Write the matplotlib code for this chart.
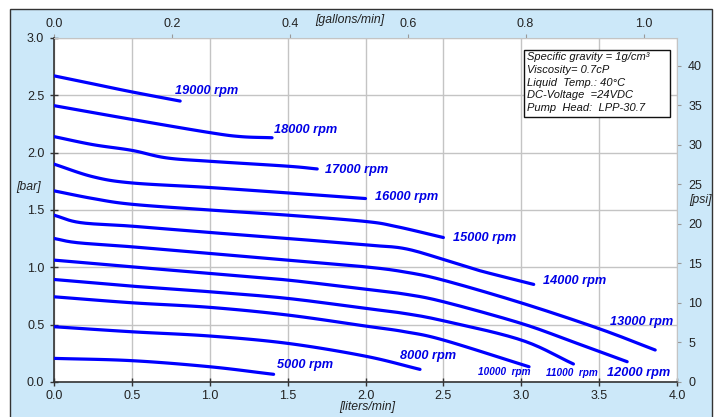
import matplotlib
matplotlib.use("Agg")
import matplotlib.pyplot as plt
from matplotlib.patches import Rectangle
import numpy as np

plt.rcParams['font.family'] = ['Liberation Sans', 'DejaVu Sans']

# ---- data (flow in liters/min, pressure in bar) ----
rpm_labels = ["19000 rpm", "18000 rpm", "17000 rpm", "16000 rpm", "15000 rpm",
              "14000 rpm", "13000 rpm", "12000 rpm", "11000 rpm", "10000 rpm",
              "8000 rpm", "5000 rpm"]

x19000 = [0.0, 0.25, 0.5, 0.81]
y19000 = [2.67, 2.60, 2.53, 2.45]
x18000 = [0.0, 0.5, 1.0, 1.2, 1.4]
y18000 = [2.41, 2.29, 2.175, 2.14, 2.13]
x17000 = [0.0, 0.25, 0.5, 0.72, 1.0, 1.5, 1.69]
y17000 = [2.14, 2.07, 2.02, 1.955, 1.925, 1.882, 1.858]
x16000 = [0.0, 0.25, 0.5, 1.0, 1.5, 2.0]
y16000 = [1.90, 1.79, 1.736, 1.696, 1.649, 1.60]
x15000 = [0.0, 0.25, 0.5, 1.0, 1.5, 2.0, 2.2, 2.5]
y15000 = [1.667, 1.60, 1.55, 1.50, 1.455, 1.40, 1.355, 1.26]
x14000 = [0.0, 0.17, 0.5, 1.0, 1.5, 2.0, 2.25, 2.5, 2.72, 2.93, 3.08]
y14000 = [1.455, 1.39, 1.359, 1.304, 1.252, 1.195, 1.164, 1.069, 0.976, 0.903, 0.851]
x13000 = [0.0, 0.15, 0.5, 1.0, 1.5, 2.0, 2.25, 2.5, 3.0, 3.5, 3.86]
y13000 = [1.252, 1.215, 1.179, 1.121, 1.063, 1.004, 0.96, 0.888, 0.69, 0.465, 0.279]
x12000 = [0.0, 0.5, 1.0, 1.5, 2.0, 2.25, 2.5, 3.0, 3.33, 3.68]
y12000 = [1.063, 1.004, 0.947, 0.889, 0.808, 0.767, 0.70, 0.511, 0.351, 0.177]
x11000 = [0.0, 0.5, 1.0, 1.5, 2.0, 2.25, 2.5, 3.0, 3.335]
y11000 = [0.894, 0.836, 0.787, 0.729, 0.642, 0.598, 0.534, 0.366, 0.157]
x10000 = [0.0, 0.5, 1.0, 1.5, 2.0, 2.25, 2.5, 3.05]
y10000 = [0.743, 0.691, 0.651, 0.584, 0.488, 0.439, 0.366, 0.133]
x8000 = [0.0, 0.5, 1.0, 1.5, 2.0, 2.35]
y8000 = [0.482, 0.438, 0.401, 0.337, 0.225, 0.11]
x5000 = [0.0, 0.5, 1.0, 1.41]
y5000 = [0.206, 0.186, 0.133, 0.067]

curves_x = [x19000, x18000, x17000, x16000, x15000, x14000, x13000,
            x12000, x11000, x10000, x8000, x5000]
curves_y = [y19000, y18000, y17000, y16000, y15000, y14000, y13000,
            y12000, y11000, y10000, y8000, y5000]

# label anchor positions (data coords)
label_x = [0.78, 1.41, 1.74, 2.06, 2.56, 3.14, 3.57, 3.55, 3.16, 2.72, 2.22, 1.43]
label_y = [2.535, 2.20, 1.853, 1.614, 1.26, 0.883, 0.525, 0.081, 0.076, 0.084, 0.226, 0.148]
label_small = [False, False, False, False, False, False, False, False, True, True, False, False]

info_lines = ["Specific gravity = 1g/cm³", "Viscosity= 0.7cP", "Liquid  Temp.: 40°C",
              "DC-Voltage  =24VDC", "Pump  Head:  LPP-30.7"]

L_PER_GAL = 3.785
PSI_PER_BAR = 14.5038


def smooth(xs, ys, n=16):
    """Catmull-Rom smoothing through the given points (like a smoothed line)."""
    p = np.column_stack([xs, ys]).astype(float)
    if len(p) < 3:
        return p[:, 0], p[:, 1]
    ext = np.vstack([2 * p[0] - p[1], p, 2 * p[-1] - p[-2]])
    out = []
    t = np.linspace(0, 1, n, endpoint=False)[:, None]
    for i in range(1, len(ext) - 2):
        p0, p1, p2, p3 = ext[i - 1], ext[i], ext[i + 1], ext[i + 2]
        seg = 0.5 * ((2 * p1) + (-p0 + p2) * t + (2 * p0 - 5 * p1 + 4 * p2 - p3) * t ** 2
                     + (-p0 + 3 * p1 - 3 * p2 + p3) * t ** 3)
        out.append(seg)
    out.append(p[-1][None, :])
    out = np.vstack(out)
    return out[:, 0], out[:, 1]


W, H = 722, 417
fig = plt.figure(figsize=(W / 100, H / 100), dpi=100)
fig.patch.set_facecolor('white')
bg = Rectangle((10 / W, -0.02), 702 / W, 1 - 9 / H + 0.02,
               transform=fig.transFigure, facecolor='#cce8f9',
               edgecolor='#333333', linewidth=1.0, zorder=-10)
fig.patches.append(bg)

ax = fig.add_axes([54 / W, 1 - 382 / H, 623 / W, 344 / H])
ax.set_zorder(1)
ax.set_facecolor('white')
ax.set_xlim(0, 4.0)
ax.set_ylim(0, 3.0)
ax.set_xticks([0, 0.5, 1.0, 1.5, 2.0, 2.5, 3.0, 3.5, 4.0])
ax.set_yticks([0, 0.5, 1.0, 1.5, 2.0, 2.5, 3.0])
ax.xaxis.set_major_formatter(matplotlib.ticker.FormatStrFormatter('%.1f'))
ax.yaxis.set_major_formatter(matplotlib.ticker.FormatStrFormatter('%.1f'))
ax.grid(True, color='#c4c4c4', linewidth=1.0)
ax.set_axisbelow(True)
for s in ['top', 'right']:
    ax.spines[s].set_color('#c4c4c4')
for s in ['left', 'bottom']:
    ax.spines[s].set_color('#333333')
    ax.spines[s].set_linewidth(1.2)
ax.tick_params(axis='both', direction='inout', length=6, width=1, color='#333333',
               labelsize=9, labelcolor='#222222')
ax.tick_params(axis='x', pad=3)
ax.tick_params(axis='y', pad=4)

for xs, ys in zip(curves_x, curves_y):
    sx, sy = smooth(xs, ys)
    ax.plot(sx, sy, color='#0000ff', linewidth=2.3, solid_capstyle='round',
            solid_joinstyle='round', zorder=3)

for lab, lx, ly, small in zip(rpm_labels, label_x, label_y, label_small):
    if small:
        ax.text(lx, ly, lab.replace(' ', '  '), color='#0000e6', fontsize=7.2,
                fontstyle='italic', fontweight='bold', va='center', ha='left', zorder=4)
    else:
        ax.text(lx, ly, lab, color='#0000e6', fontsize=9.2, fontstyle='italic',
                fontweight='bold', va='center', ha='left', zorder=4)

# info box
ax.add_patch(Rectangle((0.754, 0.770), 0.235, 0.195, transform=ax.transAxes,
                       facecolor='white', edgecolor='#111111', linewidth=1.0, zorder=5))
ax.text(0.760, 0.960, "\n".join(info_lines), transform=ax.transAxes, fontsize=8.0,
        fontstyle='italic', va='top', ha='left', linespacing=1.36, color='#111111', zorder=6)

# secondary axes
top = ax.secondary_xaxis('top', functions=(lambda L: L / L_PER_GAL, lambda g: g * L_PER_GAL))
top.set_xticks([0.0, 0.2, 0.4, 0.6, 0.8, 1.0])
top.xaxis.set_major_formatter(matplotlib.ticker.FormatStrFormatter('%.1f'))
top.tick_params(direction='out', length=3, color='#999999', labelsize=9,
                labelcolor='#222222', pad=3)
top.spines['top'].set_visible(False)

right = ax.secondary_yaxis('right', functions=(lambda b: b * PSI_PER_BAR, lambda p: p / PSI_PER_BAR))
right.set_yticks([0, 5, 10, 15, 20, 25, 30, 35, 40])
right.tick_params(direction='out', length=3, color='#999999', labelsize=9,
                  labelcolor='#222222', pad=5)
right.spines['right'].set_visible(False)

fig.text(350 / W, 1 - 20 / H, "[gallons/min]", fontsize=8.8, fontstyle='italic',
         ha='center', va='center', color='#222222')
fig.text(367 / W, 1 - 407 / H, "[liters/min]", fontsize=8.8, fontstyle='italic',
         ha='center', va='center', color='#222222')
fig.text(29 / W, 1 - 187 / H, "[bar]", fontsize=8.8, fontstyle='italic',
         ha='center', va='center', color='#222222')
fig.text(700 / W, 1 - 200 / H, "[psi]", fontsize=8.8, fontstyle='italic',
         ha='center', va='center', color='#222222')

fig.savefig("out.png", dpi=100, facecolor=fig.get_facecolor())
